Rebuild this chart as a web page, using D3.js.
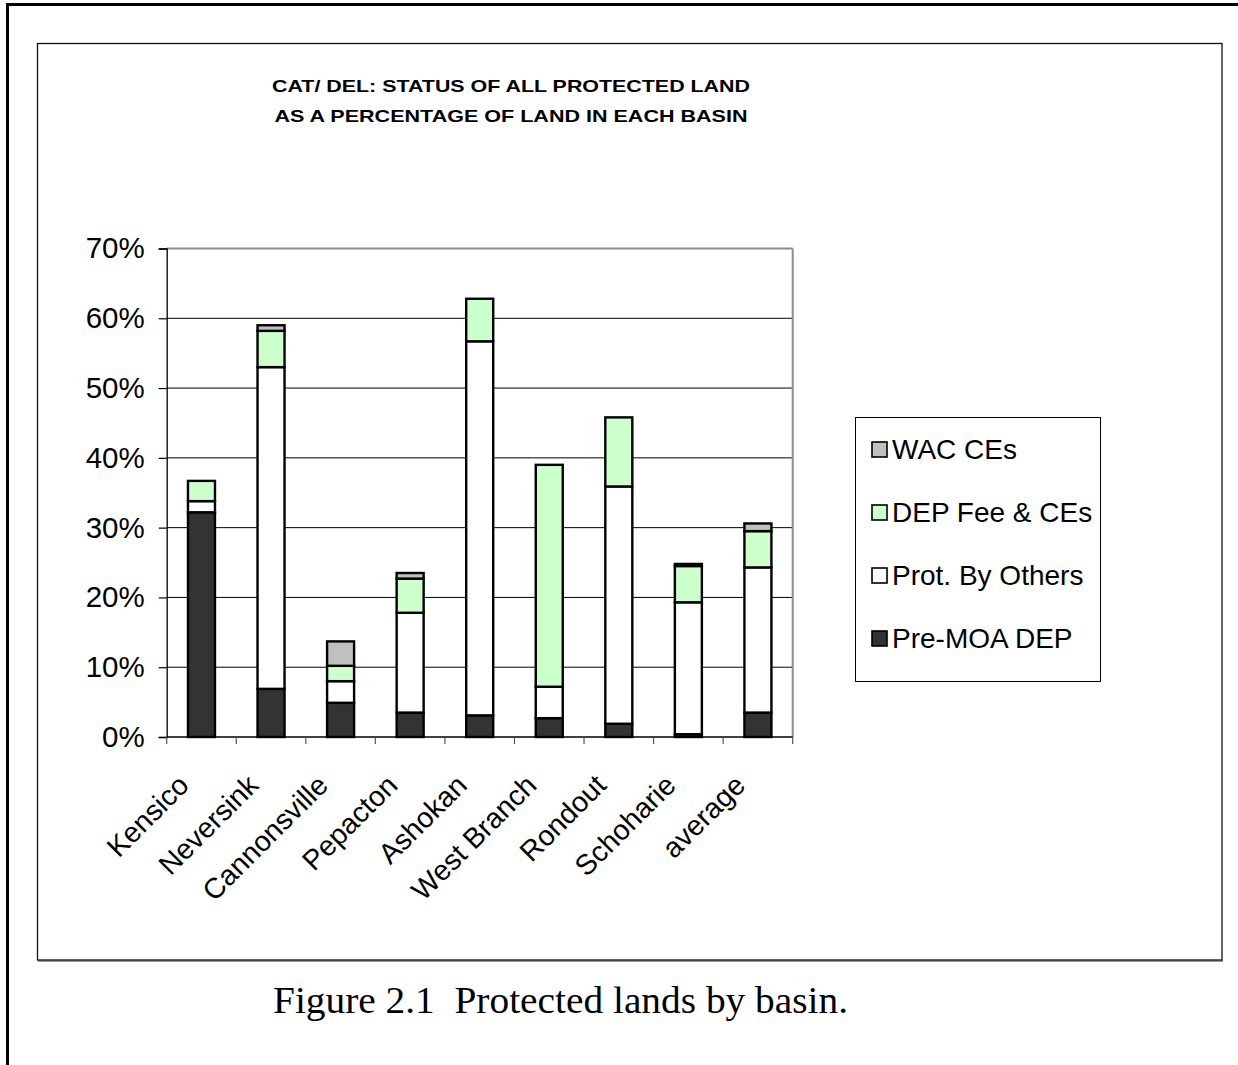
<!DOCTYPE html>
<html>
<head>
<meta charset="utf-8">
<script src="https://cdn.jsdelivr.net/npm/d3@7"></script>
<style>
  html, body { margin: 0; padding: 0; background: #fff; }
  svg { display: block; }
  text { white-space: pre; }
</style>
</head>
<body>
<svg id="chart" width="1238" height="1065"></svg>
<script>
// Basins along the x axis
const basins = ["Kensico", "Neversink", "Cannonsville", "Pepacton", "Ashokan",
                "West Branch", "Rondout", "Schoharie", "average"];

// Percentage of land in each basin, per protection status (stacked bottom to top)
const preMoaDep   = [32.2,  6.9, 4.9,  3.5,  3.1,  2.7,  1.9,  0.4,  3.5];
const protOthers  = [ 1.6, 46.1, 3.1, 14.3, 53.6,  4.5, 34.0, 18.9, 20.8];
const depFeeCEs   = [ 2.9,  5.2, 2.2,  4.9,  6.1, 31.8,  9.9,  5.2,  5.2];
const wacCEs      = [ 0.0,  0.8, 3.5,  0.8,  0.0,  0.0,  0.0,  0.3,  1.1];

const seriesNames  = ["Pre-MOA DEP", "Prot. By Others", "DEP Fee & CEs", "WAC CEs"];
const seriesColors = ["#333333", "#ffffff", "#ccffcc", "#c0c0c0"];

const yTicks = [0, 10, 20, 30, 40, 50, 60, 70];

const titleLines = ["CAT/ DEL: STATUS OF ALL PROTECTED LAND",
                    "AS A PERCENTAGE OF LAND IN EACH BASIN"];
const caption = "Figure 2.1  Protected lands by basin.";

const rows = basins.map((b, i) => ({
  basin: b,
  "Pre-MOA DEP": preMoaDep[i],
  "Prot. By Others": protOthers[i],
  "DEP Fee & CEs": depFeeCEs[i],
  "WAC CEs": wacCEs[i]
}));

const sans = "'Liberation Sans', Arial, sans-serif";
const svg = d3.select("#chart");

// Page frame lines (top and left)
svg.append("line").attr("x1", 6).attr("x2", 1238).attr("y1", 4.5).attr("y2", 4.5)
  .attr("stroke", "#000").attr("stroke-width", 3);
svg.append("line").attr("x1", 7.5).attr("x2", 7.5).attr("y1", 3).attr("y2", 1065)
  .attr("stroke", "#000").attr("stroke-width", 3);

// Chart area box with a slight shadow on the bottom edge
svg.append("line").attr("x1", 38).attr("x2", 1223).attr("y1", 961).attr("y2", 961)
  .attr("stroke", "#777").attr("stroke-width", 1.5);
svg.append("rect").attr("x", 37.5).attr("y", 43.5).attr("width", 1184.5).attr("height", 916.5)
  .attr("fill", "#fff").attr("stroke", "#111").attr("stroke-width", 1.3);

// Title
svg.selectAll("text.title").data(titleLines).join("text")
  .attr("class", "title")
  .attr("x", 511)
  .attr("y", (d, i) => 92 + i * 30)
  .attr("text-anchor", "middle")
  .attr("font-family", sans)
  .attr("font-weight", "bold")
  .attr("font-size", 16.5)
  .attr("textLength", (d, i) => i === 0 ? 478 : 473)
  .attr("lengthAdjust", "spacingAndGlyphs")
  .attr("fill", "#000")
  .text(d => d);

// Scales
const x = d3.scaleBand().domain(basins).range([166.7, 792.7]).padding(0);
const y = d3.scaleLinear().domain([0, 70]).range([737, 248.5]);
const barW = 27;

const plot = svg.append("g");

// Horizontal gridlines
plot.selectAll("line.grid").data(yTicks.filter(t => t > 0 && t < 70)).join("line")
  .attr("class", "grid")
  .attr("x1", x.range()[0]).attr("x2", x.range()[1])
  .attr("y1", d => y(d)).attr("y2", d => y(d))
  .attr("stroke", "#000").attr("stroke-width", 1);

// Plot area border: top and right in grey
plot.append("line").attr("x1", x.range()[0]).attr("x2", x.range()[1])
  .attr("y1", y(70)).attr("y2", y(70)).attr("stroke", "#8c8c8c").attr("stroke-width", 2);
plot.append("line").attr("x1", x.range()[1]).attr("x2", x.range()[1])
  .attr("y1", y(70)).attr("y2", y(0)).attr("stroke", "#8c8c8c").attr("stroke-width", 2);

// Stacked bars
const stack = d3.stack().keys(seriesNames);
const layers = stack(rows);
const color = d3.scaleOrdinal().domain(seriesNames).range(seriesColors);

plot.selectAll("g.layer").data(layers).join("g")
  .attr("class", "layer")
  .attr("fill", d => color(d.key))
  .selectAll("rect").data(d => d.filter(p => p[1] - p[0] > 0)).join("rect")
  .attr("x", d => x(d.data.basin) + x.bandwidth() / 2 - barW / 2)
  .attr("y", d => y(d[1]))
  .attr("width", barW)
  .attr("height", d => y(d[0]) - y(d[1]))
  .attr("stroke", "#000")
  .attr("stroke-width", 2.4);

// Y axis
const yAxis = d3.axisLeft(y).tickValues(yTicks).tickFormat(d => d + "%")
  .tickSize(8).tickPadding(14);
const gy = svg.append("g").attr("transform", `translate(${x.range()[0]},0)`).call(yAxis);
gy.select(".domain").attr("stroke", "#000").attr("stroke-width", 1.3);
gy.selectAll(".tick line").attr("stroke", "#000").attr("stroke-width", 1.2);
gy.selectAll(".tick text")
  .attr("font-family", sans)
  .attr("font-size", 29.5).attr("fill", "#000");

// X axis: baseline with ticks at band boundaries
const gx = svg.append("g");
gx.append("line").attr("x1", x.range()[0]).attr("x2", x.range()[1])
  .attr("y1", y(0)).attr("y2", y(0)).attr("stroke", "#000").attr("stroke-width", 1.5);
const boundaries = basins.map(b => x(b)).concat([x.range()[1]]);
gx.selectAll("line.xtick").data(boundaries).join("line")
  .attr("class", "xtick")
  .attr("x1", d => d).attr("x2", d => d)
  .attr("y1", y(0)).attr("y2", y(0) + 7)
  .attr("stroke", "#555").attr("stroke-width", 1.2);

gx.selectAll("text.xlabel").data(basins).join("text")
  .attr("class", "xlabel")
  .attr("transform", d => `translate(${x(d) + x.bandwidth() / 2 - 11},${y(0) + 50}) rotate(-45)`)
  .attr("text-anchor", "end")
  .attr("font-family", sans)
  .attr("font-size", 28.5)
  .attr("fill", "#000")
  .text(d => d);

// Legend (top entry is the top of the stack)
const legend = svg.append("g");
legend.append("rect").attr("x", 855.5).attr("y", 417.5).attr("width", 245).attr("height", 264)
  .attr("fill", "#fff").attr("stroke", "#000").attr("stroke-width", 1);
const legendItems = seriesNames.slice().reverse();
const li = legend.selectAll("g.item").data(legendItems).join("g")
  .attr("class", "item")
  .attr("transform", (d, i) => `translate(872,${449 + i * 63})`);
li.append("rect").attr("x", 0).attr("y", -7).attr("width", 15).attr("height", 15)
  .attr("fill", d => color(d)).attr("stroke", "#000").attr("stroke-width", 1.6);
li.append("text").attr("x", 20).attr("y", 10)
  .attr("font-family", sans)
  .attr("font-size", 28).attr("fill", "#000")
  .text(d => d);

// Caption
svg.append("text").attr("x", 560.5).attr("y", 1013)
  .attr("text-anchor", "middle")
  .attr("font-family", "'Liberation Serif', 'Times New Roman', serif")
  .attr("font-size", 37)
  .attr("textLength", 575)
  .attr("lengthAdjust", "spacingAndGlyphs")
  .attr("fill", "#000")
  .text(caption);
</script>
</body>
</html>
